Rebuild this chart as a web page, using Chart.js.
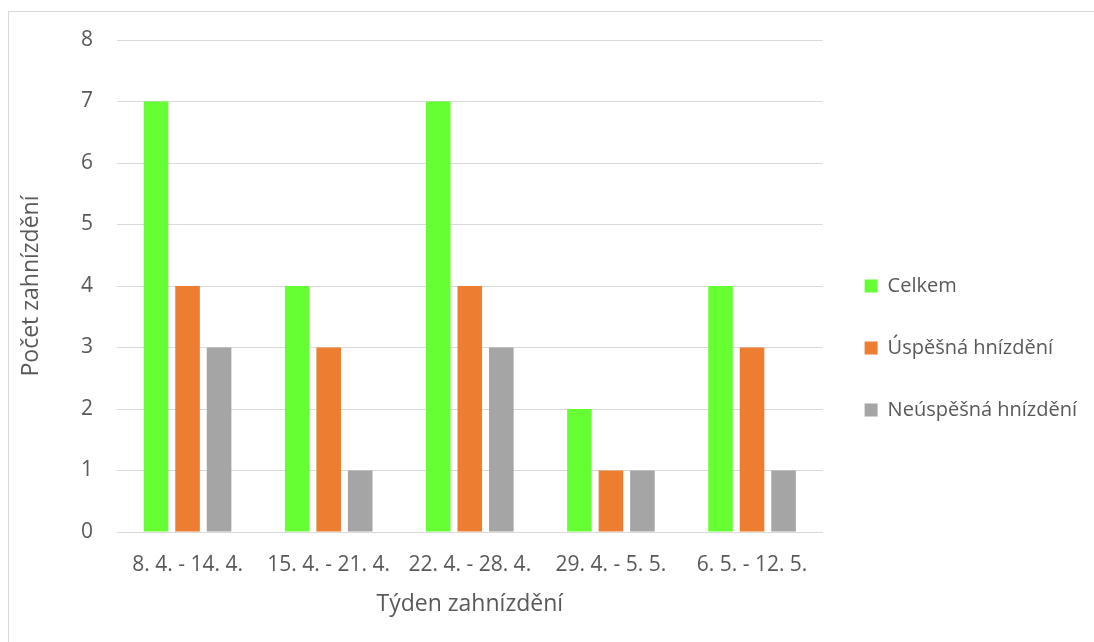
<!DOCTYPE html>
<html>
<head>
<meta charset="utf-8">
<script src="https://cdn.jsdelivr.net/npm/chart.js@4/dist/chart.umd.min.js"></script>
<style>
  html, body { margin: 0; padding: 0; background: #fff; }
  #frame { position: absolute; left: 8px; top: 11px; width: 1200px; height: 800px;
           border: 1px solid #d9d9d9; box-sizing: border-box; }
  #wrap { position: absolute; left: 0; top: 0; width: 1094px; height: 642px; }
</style>
</head>
<body>
<div id="frame"></div>
<div id="wrap"><canvas id="c" width="1094" height="642"></canvas></div>
<script>
// Weekly nesting counts
const weeks = ['8. 4. - 14. 4.', '15. 4. - 21. 4.', '22. 4. - 28. 4.', '29. 4. - 5. 5.', '6. 5. - 12. 5.'];
const celkem = [7, 4, 7, 2, 4];
const uspesna = [4, 3, 4, 1, 3];
const neuspesna = [3, 1, 3, 1, 1];
const yTicks = [0, 1, 2, 3, 4, 5, 6, 7, 8];

const font = "'Open Sans', 'Noto Sans', sans-serif";
const textColor = '#595959';

new Chart(document.getElementById('c'), {
  type: 'bar',
  data: {
    labels: weeks,
    datasets: [
      { label: 'Celkem', data: celkem, backgroundColor: '#66ff33' },
      { label: 'Úspěšná hnízdění', data: uspesna, backgroundColor: '#ed7d31' },
      { label: 'Neúspěšná hnízdění', data: neuspesna, backgroundColor: '#a5a5a5' }
    ]
  },
  options: {
    responsive: false,
    animation: false,
    devicePixelRatio: 1,
    categoryPercentage: 0.67,
    barPercentage: 0.78,
    layout: { padding: { left: 10, top: 40, right: 7, bottom: 0 } },
    plugins: {
      tooltip: { enabled: false },
      legend: {
        position: 'right',
        title: { display: true, text: ' ', font: { size: 10 }, padding: 1 },
        labels: {
          boxWidth: 13, boxHeight: 13, padding: 42,
          color: textColor,
          font: { family: font, size: 20 }
        }
      }
    },
    scales: {
      x: {
        afterFit: (s) => { s.height = 110; },
        grid: { display: false, drawTicks: false },
        border: { color: '#d9d9d9', width: 1 },
        ticks: { color: textColor, font: { family: font, size: 21 }, padding: 20 },
        title: { display: true, text: 'Týden zahnízdění', color: textColor,
                 font: { family: font, size: 23 }, padding: { top: 0, bottom: 24 } }
      },
      y: {
        min: 0, max: 8,
        afterFit: (s) => { s.width = 107; },
        afterBuildTicks: (s) => { s.ticks = yTicks.map(v => ({ value: v })); },
        grid: { color: '#d9d9d9', drawTicks: false },
        border: { display: false },
        ticks: { color: textColor, font: { family: font, size: 21 }, padding: 24 },
        title: { display: true, text: 'Počet zahnízdění', color: textColor,
                 font: { family: font, size: 23 }, padding: { top: 8, bottom: 0 } }
      }
    }
  }
});
</script>
</body>
</html>
